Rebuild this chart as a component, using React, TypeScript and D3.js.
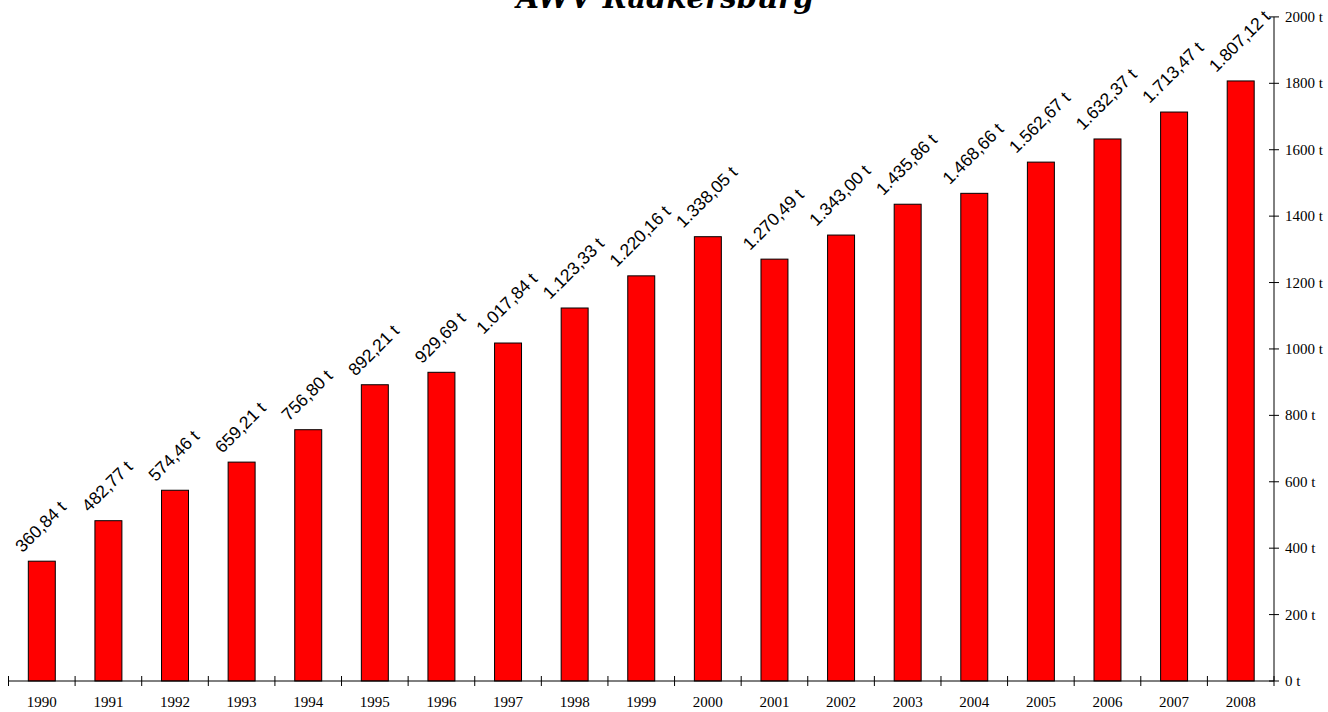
import React from "react";
import * as d3 from "d3";

const years = ["1990","1991","1992","1993","1994","1995","1996","1997","1998","1999","2000","2001","2002","2003","2004","2005","2006","2007","2008"];
const tonnes = [360.84, 482.77, 574.46, 659.21, 756.80, 892.21, 929.69, 1017.84, 1123.33, 1220.16, 1338.05, 1270.49, 1343.00, 1435.86, 1468.66, 1562.67, 1632.37, 1713.47, 1807.12];
const yTicks = [0, 200, 400, 600, 800, 1000, 1200, 1400, 1600, 1800, 2000];
const title = "AWV Radkersburg";

const W = 1328, H = 712;
const left = 8.5, right = 1274, base = 681, topY = 16.9;
const labelFs = 17.5;

const locale = d3.formatLocale({ decimal: ",", thousands: ".", grouping: [3], currency: ["", "€"] });
const fmt = locale.format(",.2f");

function textLen(s: string, fs: number) {
  let w = 0;
  for (const c of s) {
    if (c >= "0" && c <= "9") w += 0.556;
    else w += 0.278;
  }
  return w * fs;
}

export default function App() {
  const x = d3.scaleBand().domain(years).range([left, right]).paddingInner(0.595).paddingOuter(0.2975);
  const xb = d3.scaleBand().domain(years).range([left, right]);
  const y = d3.scaleLinear().domain([0, 2000]).range([base, topY]);
  return (
    <div style={{ position: "absolute", left: 0, top: 0 }}>
      <svg width={W} height={H} style={{ display: "block", background: "#fff" }}>
        <text x={665} y={8} textAnchor="middle" fontFamily="'DejaVu Serif', serif" fontWeight="bold" fontStyle="italic" fontSize={29}>{title}</text>
        {years.map((yr, i) => {
          const v = tonnes[i];
          return (
            <rect key={yr} x={x(yr)!} y={y(v)} width={x.bandwidth()} height={base - y(v)} fill="#ff0000" stroke="#000" strokeWidth={1} />
          );
        })}
        {years.map((yr, i) => {
          const v = tonnes[i];
          const s = fmt(v) + " t";
          const L = textLen(s, labelFs);
          const cx = x(yr)! + x.bandwidth() / 2;
          const ox = cx + 3;
          const oy = y(v) - 8 - 0.354 * L;
          return (
            <text key={"l" + yr} x={ox} y={oy} textAnchor="middle" transform={`rotate(-45 ${ox} ${oy})`} fontFamily="'Liberation Sans', Arial, sans-serif" fontSize={labelFs}>{s}</text>
          );
        })}
        <line x1={left} x2={right} y1={base} y2={base} stroke="#000" strokeWidth={1} />
        {years.map((yr) => (
          <line key={"t" + yr} x1={xb(yr)!} x2={xb(yr)!} y1={base - 5} y2={base + 5} stroke="#000" strokeWidth={1} />
        ))}
        <line x1={right} x2={right} y1={base - 5} y2={base + 5} stroke="#000" strokeWidth={1} />
        {years.map((yr) => (
          <text key={"x" + yr} x={xb(yr)! + xb.bandwidth() / 2} y={707} textAnchor="middle" fontFamily="'Liberation Serif', 'Times New Roman', serif" fontSize={15}>{yr}</text>
        ))}
        <line x1={right} x2={right} y1={y(2000)} y2={base} stroke="#000" strokeWidth={1} />
        {yTicks.map((t) => (
          <g key={"y" + t}>
            <line x1={right - 5} x2={right + 5} y1={y(t)} y2={y(t)} stroke="#000" strokeWidth={1} />
            <text x={1285} y={y(t) + 5} fontFamily="'Liberation Serif', 'Times New Roman', serif" fontSize={15}>{t} t</text>
          </g>
        ))}
      </svg>
    </div>
  );
}
